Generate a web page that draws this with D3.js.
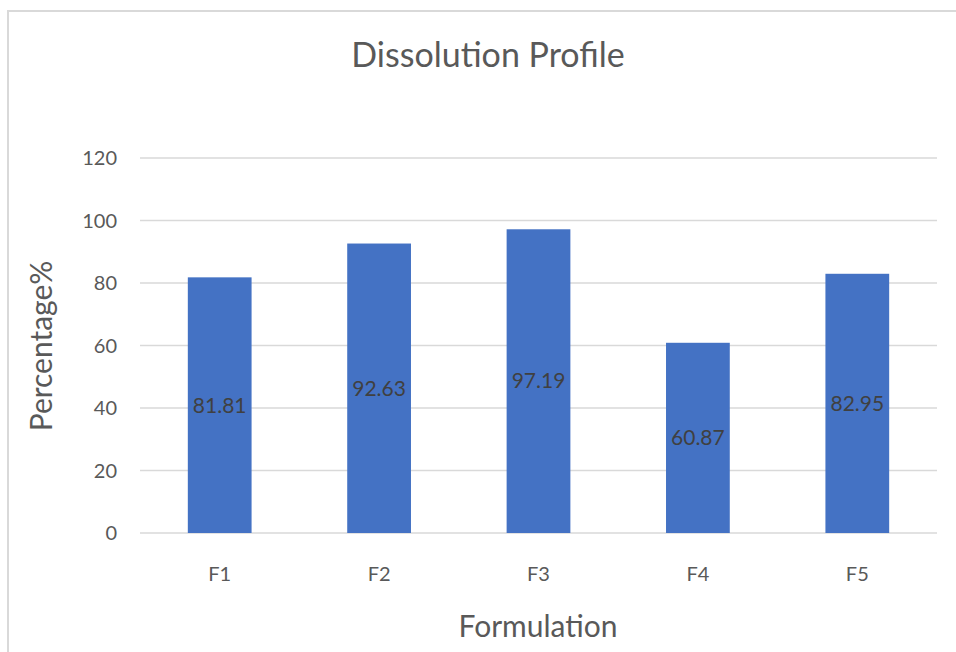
<!DOCTYPE html>
<html>
<head>
<meta charset="utf-8">
<script src="https://cdn.jsdelivr.net/npm/d3@7"></script>
<style>
  body { margin: 0; background: #fff; }
  svg { display: block; font-family: Lato, "Open Sans", sans-serif; }
</style>
</head>
<body>
<svg width="956" height="652"></svg>
<script>
var categories = ["F1", "F2", "F3", "F4", "F5"];
var values = [81.81, 92.63, 97.19, 60.87, 82.95];
var yTicks = [0, 20, 40, 60, 80, 100, 120];

var svg = d3.select("svg");

// chart frame
svg.append("rect")
  .attr("x", 8).attr("y", 11)
  .attr("width", 960).attr("height", 660)
  .attr("fill", "none")
  .attr("stroke", "#d9d9d9")
  .attr("stroke-width", 2);

var plotLeft = 140, plotRight = 937, plotTop = 158, plotBottom = 533;

var x = d3.scaleBand().domain(categories).range([plotLeft, plotRight]).paddingInner(0.6).paddingOuter(0.3);
var y = d3.scaleLinear().domain([0, 120]).range([plotBottom, plotTop]);

// gridlines
svg.append("g")
  .selectAll("line")
  .data(yTicks)
  .enter().append("line")
  .attr("x1", plotLeft).attr("x2", plotRight)
  .attr("y1", function(d) { return y(d); })
  .attr("y2", function(d) { return y(d); })
  .attr("stroke", "#d9d9d9")
  .attr("stroke-width", 1.5);

// y axis labels
svg.append("g")
  .selectAll("text")
  .data(yTicks)
  .enter().append("text")
  .attr("x", 117)
  .attr("y", function(d) { return y(d); })
  .attr("dy", "0.35em")
  .attr("text-anchor", "end")
  .attr("font-size", "20px")
  .attr("fill", "#595959")
  .text(function(d) { return d; });

// bars
svg.append("g")
  .selectAll("rect")
  .data(values)
  .enter().append("rect")
  .attr("x", function(d, i) { return x(categories[i]); })
  .attr("y", function(d) { return y(d); })
  .attr("width", x.bandwidth())
  .attr("height", function(d) { return plotBottom - y(d); })
  .attr("fill", "#4472c4");

// data labels
svg.append("g")
  .selectAll("text")
  .data(values)
  .enter().append("text")
  .attr("x", function(d, i) { return x(categories[i]) + x.bandwidth() / 2; })
  .attr("y", function(d) { return (y(d) + plotBottom) / 2; })
  .attr("dy", "0.35em")
  .attr("text-anchor", "middle")
  .attr("font-size", "21px")
  .attr("fill", "#404040")
  .text(function(d) { return d.toFixed(2); });

// x axis labels
svg.append("g")
  .selectAll("text")
  .data(categories)
  .enter().append("text")
  .attr("x", function(d) { return x(d) + x.bandwidth() / 2; })
  .attr("y", 581)
  .attr("text-anchor", "middle")
  .attr("font-size", "20px")
  .attr("fill", "#595959")
  .text(function(d) { return d; });

// title
svg.append("text")
  .attr("x", 488).attr("y", 67)
  .attr("text-anchor", "middle")
  .attr("font-size", "34px")
  .attr("fill", "#595959")
  .text("Dissolution Profile");

// axis titles
svg.append("text")
  .attr("x", 538).attr("y", 637)
  .attr("text-anchor", "middle")
  .attr("font-size", "30px")
  .attr("fill", "#595959")
  .text("Formulation");

svg.append("text")
  .attr("transform", "translate(52,346) rotate(-90)")
  .attr("text-anchor", "middle")
  .attr("font-size", "30px")
  .attr("fill", "#595959")
  .text("Percentage%");
</script>
</body>
</html>
